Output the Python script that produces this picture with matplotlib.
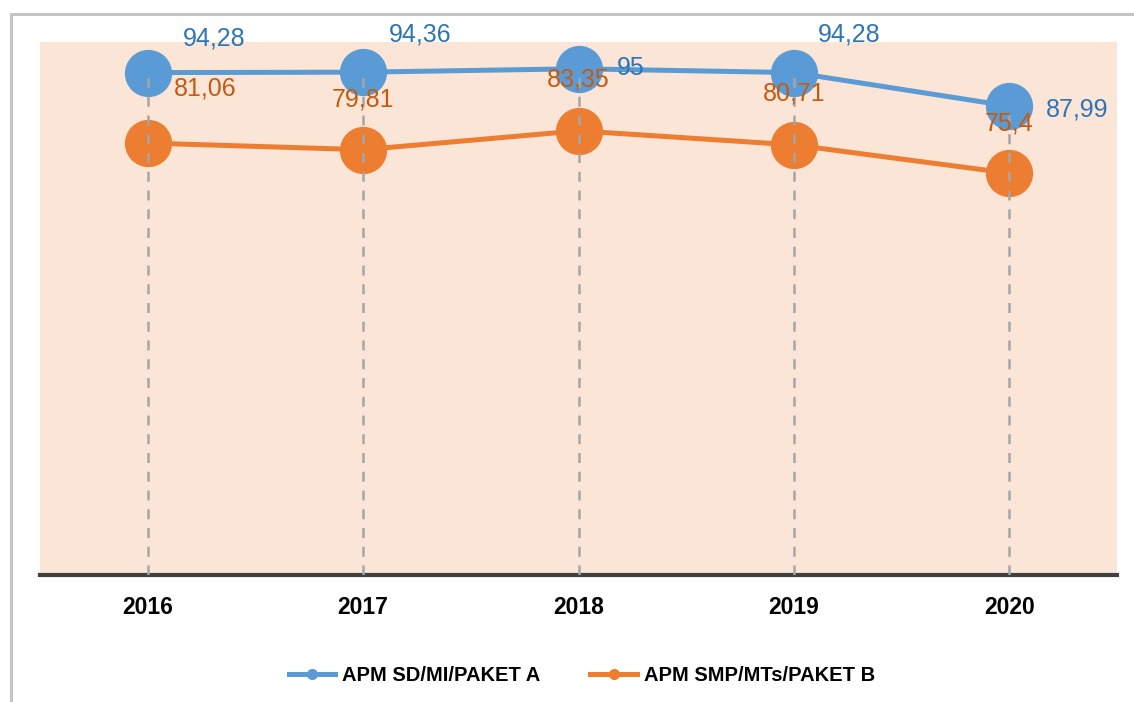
import matplotlib
matplotlib.use("Agg")
from matplotlib import pyplot as plt
from matplotlib.patches import Rectangle

years = ["2016", "2017", "2018", "2019", "2020"]
apm_sd = [94.28, 94.36, 95, 94.28, 87.99]
apm_smp = [81.06, 79.81, 83.35, 80.71, 75.4]
sd_labels = ["94,28", "94,36", "95", "94,28", "87,99"]
smp_labels = ["81,06", "79,81", "83,35", "80,71", "75,4"]

# label offsets in pixels (dx, dy)
sd_offsets = [(66, 34), (57, 38), (52, 1), (55, 38), (68, -3)]
smp_offsets = [(57, 55), (0, 50), (0, 51), (0, 51), (0, 50)]

BLUE = "#5B9BD5"
ORANGE = "#ED7D31"
BLUE_TEXT = "#2E75B6"
ORANGE_TEXT = "#C55A11"
FONT = ["Liberation Sans", "DejaVu Sans"]


def main():
    figure = plt.figure(figsize=(11.34, 7.02), dpi=100)
    axis = figure.add_axes([0.0353, 0.181, 0.9497, 0.759])
    axis.set_facecolor("#FBE5D6")

    x_values = list(range(len(years)))

    axis.plot(x_values, apm_smp, color=ORANGE, linewidth=3.6, marker="o",
              markersize=33, label="APM SMP/MTs/PAKET B", zorder=3)
    axis.plot(x_values, apm_sd, color=BLUE, linewidth=3.6, marker="o",
              markersize=33, label="APM SD/MI/PAKET A", zorder=4)

    tops = [max(a, b) for a, b in zip(apm_sd, apm_smp)]
    axis.vlines(x_values, 0, tops, colors="#A6A6A6", linewidth=1.8,
                linestyles=(0, (4, 3.5)), zorder=5)

    for x, y, text, off in zip(x_values, apm_sd, sd_labels, sd_offsets):
        axis.annotate(text, (x, y), xytext=off, textcoords="offset pixels",
                      ha="center", va="center", color=BLUE_TEXT,
                      fontsize=18, family=FONT, zorder=6)
    for x, y, text, off in zip(x_values, apm_smp, smp_labels, smp_offsets):
        axis.annotate(text, (x, y), xytext=off, textcoords="offset pixels",
                      ha="center", va="center", color=ORANGE_TEXT,
                      fontsize=18, family=FONT, zorder=6)

    axis.set_xlim(-0.5, len(years) - 0.5)
    axis.set_ylim(0, 100)
    axis.set_xticks(x_values)
    axis.set_xticklabels(years, fontsize=16.5, fontweight="bold", family=FONT)
    axis.tick_params(axis="x", length=0, pad=15)
    axis.set_yticks([])
    for side in ["left", "right", "top"]:
        axis.spines[side].set_visible(False)
    axis.spines["bottom"].set_color("#404040")
    axis.spines["bottom"].set_linewidth(3)

    handles, labels = axis.get_legend_handles_labels()
    legend = figure.legend(
        handles[::-1], labels[::-1],
        loc="center", bbox_to_anchor=(0.513, 0.038), ncol=2,
        frameon=False, handlelength=2.3, columnspacing=2.5,
        handletextpad=0.35,
        prop={"family": FONT, "weight": "bold", "size": 14.5}
    )
    for line in legend.get_lines():
        line.set_markersize(7)
        line.set_linewidth(3.6)

    figure.patches.append(Rectangle(
        (11 / 1134, -0.05), 1.1, 1 - 14 / 702 + 0.05,
        transform=figure.transFigure, fill=False,
        edgecolor="#C4C4C4", linewidth=2.2, clip_on=False
    ))

    figure.savefig("out.png", dpi=100, facecolor="white")


if __name__ == '__main__':
    main()
